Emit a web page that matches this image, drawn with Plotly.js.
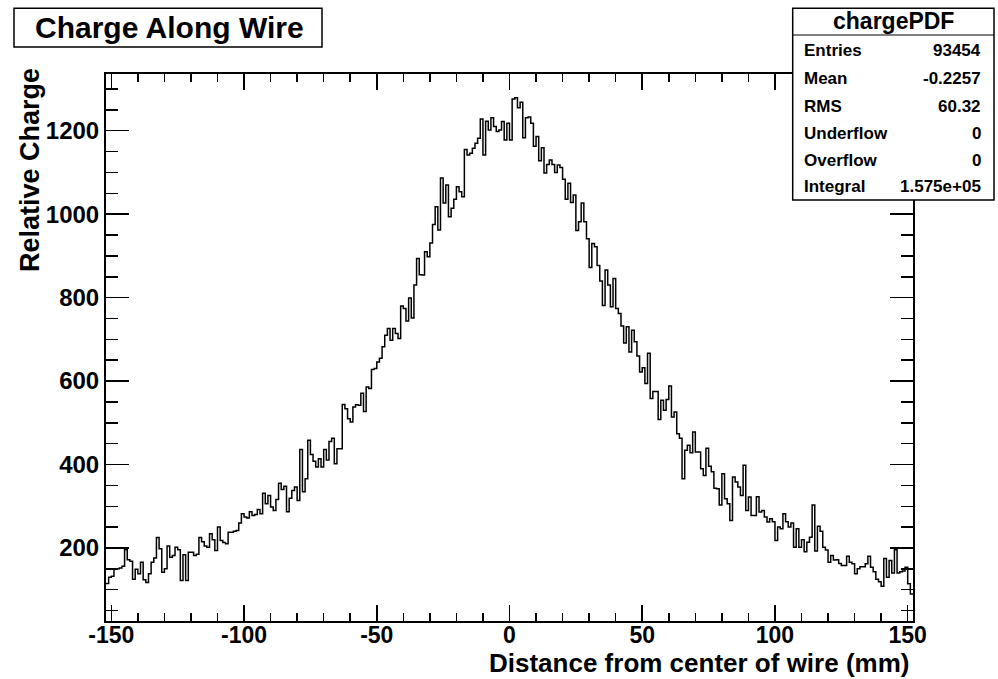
<!DOCTYPE html>
<html>
<head>
<meta charset="utf-8">
<script src="https://cdn.plot.ly/plotly-3.0.1.min.js"></script>
<style>html,body{margin:0;padding:0;background:#fff;}#chart{width:998px;height:679px;}</style>
</head>
<body>
<div id="chart"></div>
<script>
// Histogram binning (1 mm bins from -152 to 152 mm)
const binLow = -152;
const binWidth = 1;
// Bin contents, left to right
const charge = [
 115,130,132,149,150,152,156,196,172,168,
 125,149,138,166,124,117,138,166,176,225,
 198,142,150,205,178,182,202,196,122,184,
 122,190,190,182,185,225,215,205,202,234,
 220,194,250,218,213,210,238,238,240,242,
 260,282,274,272,287,278,280,292,282,331,
 306,326,298,290,316,355,340,348,287,319,
 338,346,314,436,335,366,458,424,408,394,
 414,394,436,411,455,463,402,438,438,544,
 534,510,502,538,543,542,571,527,586,582,
 628,
 630,646,655,682,710,726,698,726,714,702,
 780,774,744,799,751,830,894,855,854,910,
 898,931,975,1018,962,1087,1027,1070,994,1014,
 1036,1066,1054,1042,
 1155,1142,1146,1158,1170,1182,1228,1142,1223,1202,
 1231,1210,1198,1202,1222,1178,1218,1178,
 1276,1279,1255,1268,1183,1231,1233,1218,1163,1186,
 1128,1159,1099,1119,1130,1119,1100,1118,1112,1084,
 1036,1074,1028,1046,961,982,1027,982,941,872,
 930,922,877,840,781,866,830,778,846,774,
 762,732,691,730,670,722,694,660,622,632,594,
 667,558,575,575,508,554,530,556,588,514,
 526,474,463,366,434,446,428,478,430,430,
 390,374,439,396,383,343,342,303,378,318,
 306,266,370,358,346,326,398,290,322,278,
 278,323,286,290,274,262,270,263,218,250,246,
 282,263,250,260,202,246,202,220,191,214,
 226,303,193,252,240,202,195,166,182,171,
 172,163,158,158,180,166,162,138,150,155,
 155,162,180,154,143,125,119,108,175,130,
 170,140,196,140,143,145,154,114,90
];
const xTickVals = [-150, -100, -50, 0, 50, 100, 150];
const xTickText = ["-150", "-100", "-50", "0", "50", "100", "150"];
const yTickVals = [200, 400, 600, 800, 1000, 1200];
const yTickText = ["200", "400", "600", "800", "1000", "1200"];
const statLabels = ["Entries","Mean","RMS","Underflow","Overflow","Integral"];
const statValues = ["93454","-0.2257","60.32","0","0","1.575e+05"];
const histName = "chargePDF";
const chartTitle = "Charge Along Wire";
const xTitle = "Distance from center of wire (mm)";
const yTitle = "Relative Charge";

// step outline: bin edges, last content repeated
const xs = [], ys = [];
for (let i = 0; i <= charge.length; i++) {
  xs.push(binLow + i * binWidth);
  ys.push(charge[Math.min(i, charge.length - 1)]);
}

const W = 998, H = 679;
const M = {l:106, r:85, t:74, b:58};
const PW = W - M.l - M.r, PH = H - M.t - M.b;
const px = v => (v - M.l) / PW;
const py = v => (H - M.b - v) / PH;

const FF = "Liberation Sans, Arial, Helvetica, sans-serif";
const bold = (s) => ({family: FF, size: s, color: "#000", weight: "bold"});

const trace = {
  x: xs, y: ys, type: "scatter", mode: "lines",
  line: {shape: "hv", color: "#000", width: 1.5},
  hoverinfo: "skip", showlegend: false
};

const shapes = [
  {type:"rect", xref:"paper", yref:"paper", x0:px(14), x1:px(322), y0:py(47), y1:py(8.3),
   line:{color:"#000", width:1.5}, fillcolor:"#fff", layer:"above"},
  {type:"rect", xref:"paper", yref:"paper", x0:px(792.7), x1:px(994), y0:py(200), y1:py(8.3),
   line:{color:"#000", width:1.5}, fillcolor:"#fff", layer:"above"},
  {type:"line", xref:"paper", yref:"paper", x0:px(792.7), x1:px(994), y0:py(35), y1:py(35),
   line:{color:"#000", width:1.2}, layer:"above"}
];

const annotations = [
  {text: chartTitle, xref:"paper", yref:"paper", x:px(169), y:py(28), xanchor:"center", yanchor:"middle",
   showarrow:false, font: bold(30)},
  {text: histName, xref:"paper", yref:"paper", x:px(893.4), y:py(21.5), xanchor:"center", yanchor:"middle",
   showarrow:false, font: bold(23)},
  {text: xTitle, xref:"paper", yref:"paper", x:px(911), y:py(663), xanchor:"right", yanchor:"middle",
   showarrow:false, font: bold(26)},
  {text: yTitle, xref:"paper", yref:"paper", x:px(30), y:py(170), xanchor:"center", yanchor:"middle",
   textangle:-90, showarrow:false, font: bold(27)}
];
const rowY = [50, 79, 106, 133.3, 160, 186.7];
statLabels.forEach((lab, i) => {
  annotations.push({text: lab, xref:"paper", yref:"paper", x:px(801.5), y:py(rowY[i]), xanchor:"left", yanchor:"middle",
    showarrow:false, font: bold(17)});
  annotations.push({text: statValues[i], xref:"paper", yref:"paper", x:px(982.7), y:py(rowY[i]), xanchor:"right", yanchor:"middle",
    showarrow:false, font: bold(17)});
});

const axisCommon = {
  showgrid:false, zeroline:false, showline:true, linecolor:"#000", linewidth:2,
  mirror:"allticks", ticks:"inside", tickcolor:"#000", tickwidth:1.5,
  tickfont: bold(24), tickmode:"array"
};

const layout = {
  width: W, height: H, margin: M,
  paper_bgcolor:"#fff", plot_bgcolor:"#fff",
  showlegend:false,
  xaxis: Object.assign({}, axisCommon, {
    range:[binLow, binLow + charge.length * binWidth], tickvals:xTickVals, ticktext:xTickText, ticklen:16,
    ticklabelstandoff:-8, tickfont: bold(23),
    minor:{dtick:10, tick0:0, ticks:"inside", ticklen:8, tickcolor:"#000", tickwidth:1.5, showgrid:false}
  }),
  yaxis: Object.assign({}, axisCommon, {
    range:[25, 1336], tickvals:yTickVals, ticktext:yTickText, ticklen:23,
    minor:{dtick:50, tick0:0, ticks:"inside", ticklen:12, tickcolor:"#000", tickwidth:1.5, showgrid:false}
  }),
  shapes: shapes,
  annotations: annotations
};

Plotly.newPlot("chart", [trace], layout, {displayModeBar:false, staticPlot:true});
</script>
</body>
</html>
